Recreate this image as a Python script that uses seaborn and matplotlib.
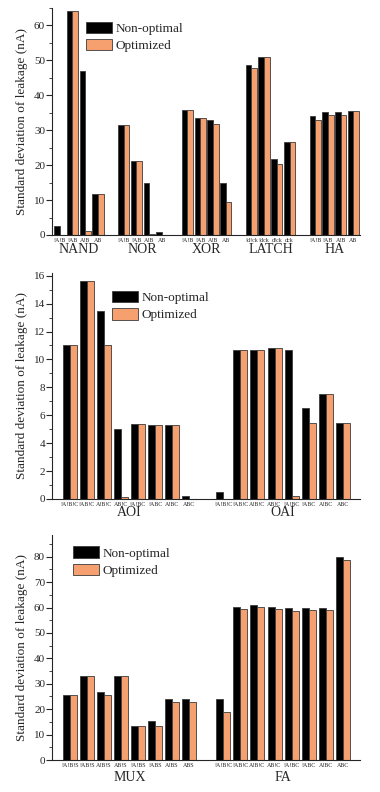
import matplotlib
matplotlib.use("Agg")
import matplotlib.pyplot as plt
import matplotlib.transforms as mtrans
from matplotlib.ticker import MultipleLocator
import seaborn as sns
import pandas as pd

# top panel
top_groups = ['NAND', 'NOR', 'XOR', 'LATCH', 'HA']
ab_ticks = ['!A!B', '!AB', 'A!B', 'AB']
latch_ticks = ['!d!ck', '!dck', 'd!ck', 'dck']
top_ticks = [ab_ticks, ab_ticks, ab_ticks, latch_ticks, ab_ticks]
top_nonopt = [2.5, 64.0, 47.1, 11.7, 31.5, 21.1, 14.8, 0.8, 35.7, 33.6, 32.9, 14.9,
              48.7, 50.9, 21.9, 26.5, 34.0, 35.2, 35.2, 35.5]
top_opt = [0.0, 64.0, 1.0, 11.7, 31.5, 21.1, 0.3, 0.0, 35.7, 33.6, 31.9, 9.4,
           47.9, 50.9, 20.4, 26.5, 33.0, 34.3, 34.5, 35.5]

# middle panel
mid_groups = ['AOI', 'OAI']
abc_ticks = ['!A!B!C', '!AB!C', 'A!B!C', 'AB!C', '!A!BC', '!ABC', 'A!BC', 'ABC']
mid_ticks = [abc_ticks, abc_ticks]
mid_nonopt = [11.0, 15.65, 13.45, 5.0, 5.35, 5.28, 5.28, 0.24,
              0.5, 10.7, 10.7, 10.8, 10.7, 6.55, 7.55, 5.45]
mid_opt = [11.0, 15.65, 11.0, 0.12, 5.35, 5.28, 5.28, 0.0,
           0.0, 10.7, 10.7, 10.8, 0.22, 5.45, 7.55, 5.45]

# bottom panel
bot_groups = ['MUX', 'FA']
mux_ticks = ['!A!B!S', '!AB!S', 'A!B!S', 'AB!S', '!A!BS', '!ABS', 'A!BS', 'ABS']
bot_ticks = [mux_ticks, abc_ticks]
bot_nonopt = [25.4, 33.0, 26.6, 33.0, 13.2, 15.3, 24.0, 23.9,
              23.9, 60.2, 60.9, 60.1, 59.8, 59.8, 59.8, 80.0]
bot_opt = [25.4, 33.0, 25.4, 33.0, 13.2, 13.2, 22.7, 22.7,
           19.0, 59.4, 60.3, 59.3, 58.5, 59.0, 59.1, 78.8]

series = ['Non-optimal', 'Optimized']
colors = ['#000000', '#F5A06E']

sns.set_style("ticks")
plt.rcParams['font.family'] = ['Liberation Serif', 'DejaVu Serif']


def draw_panel(ax, groups, ticks, nonopt, opt, ylim, ystep, width, xlim, leg_xy, grp_y):
    rows = []
    order = []
    labels = []
    i = 0
    for gi, g in enumerate(groups):
        if gi > 0:
            order.append('gap%d' % gi)
            labels.append('')
        for t in ticks[gi]:
            key = g + '|' + t
            order.append(key)
            labels.append(t)
            rows.append((key, series[0], nonopt[i]))
            rows.append((key, series[1], opt[i]))
            i += 1
    df = pd.DataFrame(rows, columns=['key', 'series', 'value'])
    sns.barplot(data=df, x='key', y='value', hue='series', order=order,
                hue_order=series, palette=colors, width=width, errorbar=None,
                edgecolor='#3a3a3a', linewidth=0.6, saturation=1, ax=ax)
    ax.set_xticks(range(len(order)))
    ax.set_xticklabels(labels, fontsize=4.3)
    ax.tick_params(axis='x', length=0, pad=2)
    ax.tick_params(axis='y', which='major', length=4, labelsize=8, pad=1)
    ax.tick_params(axis='y', which='minor', length=2)
    ax.yaxis.set_major_locator(MultipleLocator(ystep))
    ax.yaxis.set_minor_locator(MultipleLocator(ystep / 2))
    ax.set_ylim(*ylim)
    ax.set_xlim(*xlim)
    ax.set_xlabel('')
    ax.set_ylabel('Standard deviation of leakage (nA)', fontsize=9.5)
    sns.despine(ax=ax)
    for s in ['left', 'bottom']:
        ax.spines[s].set_linewidth(0.8)
    # group names under the tick labels
    trans = mtrans.blended_transform_factory(ax.transData, ax.transAxes)
    start = 0
    for gi, g in enumerate(groups):
        n = len(ticks[gi])
        ax.text(start + (n - 1) / 2, grp_y, g, transform=trans, ha='center',
                va='center', fontsize=10)
        start += n + 1
    handles, lbls = ax.get_legend_handles_labels()
    ax.legend(handles, lbls, loc='upper left', bbox_to_anchor=leg_xy,
              frameon=False, fontsize=9.5, handlelength=2.0, handleheight=0.95,
              labelspacing=0.3, handletextpad=0.25, borderpad=0, borderaxespad=0)


fig = plt.figure(figsize=(3.8, 7.92), dpi=100)
ax1 = fig.add_axes([0.137, 0.7033, 0.81, 0.2866])
ax2 = fig.add_axes([0.137, 0.370, 0.81, 0.2854])
ax3 = fig.add_axes([0.137, 0.0404, 0.81, 0.284])

draw_panel(ax1, top_groups, top_ticks, top_nonopt, top_opt, (0, 65), 10, 0.88,
           (-0.6, 23.5), (0.11, 0.94), -0.066)
draw_panel(ax2, mid_groups, mid_ticks, mid_nonopt, mid_opt, (0, 16.2), 2, 0.82,
           (-1.03, 17.0), (0.195, 0.92), -0.06)
draw_panel(ax3, bot_groups, bot_ticks, bot_nonopt, bot_opt, (0, 88.5), 10, 0.82,
           (-1.03, 17.0), (0.068, 0.95), -0.076)

fig.savefig('out.png', dpi=100, facecolor='white')
